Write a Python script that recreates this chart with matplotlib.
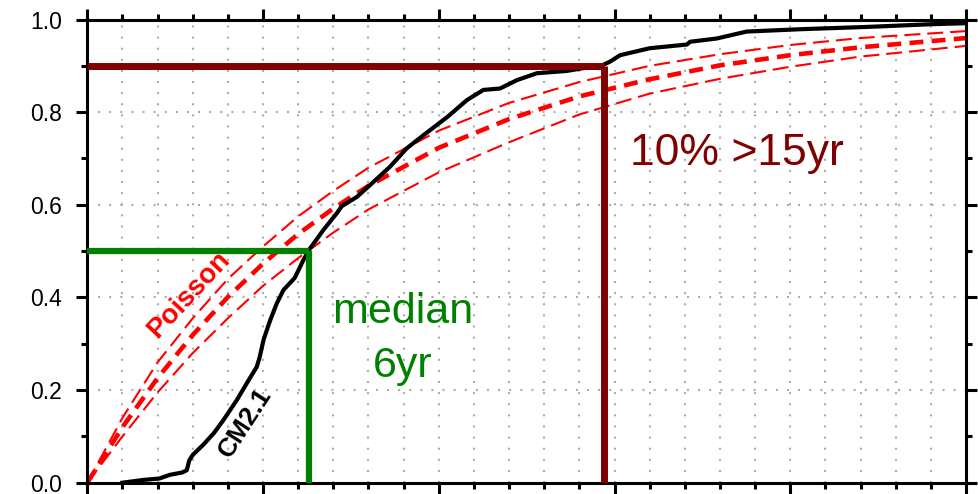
import numpy as np
import matplotlib.pyplot as plt
from matplotlib.ticker import MultipleLocator, NullFormatter

plt.rcParams["font.family"] = ["Liberation Sans", "DejaVu Sans"]
plt.rcParams["lines.scale_dashes"] = False

# Empirical CDF of event return time in CM2.1 (years, cumulative fraction)
cm_years = [1.0, 1.6, 2.05, 2.35, 2.7, 2.83, 2.9, 3.0, 3.3, 3.6, 3.87, 4.25,
            4.54, 4.82, 4.9, 5.02, 5.2, 5.39, 5.58, 5.9, 6.15, 6.33, 6.72,
            7.1, 7.24, 7.67, 8.05, 8.61, 9.09, 9.56, 10.25, 10.8, 11.27,
            11.74, 12.22, 12.79, 13.64, 14.11, 14.59, 14.87, 15.16, 16.0,
            17.06, 17.15, 17.91, 18.76, 20.28, 22.18, 24.07, 25.0]
cm_cdf = [0.0, 0.006, 0.009, 0.017, 0.022, 0.027, 0.048, 0.06, 0.082, 0.107,
          0.135, 0.178, 0.215, 0.25, 0.27, 0.31, 0.35, 0.387, 0.416, 0.442,
          0.481, 0.505, 0.546, 0.582, 0.597, 0.617, 0.643, 0.682, 0.722,
          0.75, 0.79, 0.826, 0.848, 0.851, 0.869, 0.884, 0.889, 0.895,
          0.899, 0.909, 0.923, 0.938, 0.946, 0.952, 0.959, 0.974, 0.979,
          0.984, 0.99, 0.992]

# Poisson reference curves (central estimate and its spread)
poisson_years = [0, 1, 2, 3, 4, 5, 6, 7, 8, 10, 12, 14, 16, 18, 20, 22, 25]
poisson_mid = [0.0, 0.12, 0.226, 0.319, 0.401, 0.473, 0.537, 0.592, 0.641,
               0.723, 0.785, 0.834, 0.871, 0.901, 0.923, 0.94, 0.96]
poisson_hi = [0.0, 0.14, 0.26, 0.355, 0.44, 0.51, 0.575, 0.63, 0.68, 0.76,
              0.82, 0.865, 0.9, 0.925, 0.945, 0.96, 0.975]
poisson_lo = [0.0, 0.1, 0.195, 0.28, 0.355, 0.425, 0.485, 0.54, 0.59, 0.67,
              0.735, 0.795, 0.84, 0.872, 0.898, 0.92, 0.943]

median_year, median_frac = 6.3, 0.5
p90_year, p90_frac = 14.7, 0.9

green = "#008000"
maroon = "#800000"

fig = plt.figure(figsize=(9.79, 4.94), dpi=100)
ax = fig.add_axes([0.0892, 0.0229, 0.8975, 0.9376])

ax.set_xlim(0, 25)
ax.set_ylim(0, 1.0)

# dotted grid: every year vertically, every 0.2 horizontally
grid_kw = dict(color="#a8a8a8", lw=1.5, ls=(0, (1.4, 6.6)), zorder=0)
for gx in range(1, 25):
    ax.axvline(gx, **grid_kw)
for gy in [0.2, 0.4, 0.6, 0.8]:
    ax.axhline(gy, **grid_kw)

ax.plot(poisson_years, poisson_hi, color="red", lw=1.5, ls=(0, (11.5, 5)), zorder=2)
ax.plot(poisson_years, poisson_lo, color="red", lw=1.5, ls=(0, (11.5, 5)), zorder=2)
ax.plot(poisson_years, poisson_mid, color="red", lw=3.3, ls=(0, (10, 6)), zorder=2)

ax.plot(cm_years, cm_cdf, color="black", lw=3, zorder=3)

# median and 90th percentile markers
ax.plot([0, median_year], [median_frac, median_frac], color=green, lw=4.5,
        solid_capstyle="butt", zorder=4)
ax.plot([median_year, median_year], [0, median_frac], color=green, lw=4.5,
        solid_capstyle="butt", zorder=4)
ax.plot([0, p90_year], [p90_frac, p90_frac], color=maroon, lw=5,
        solid_capstyle="butt", zorder=4)
ax.plot([p90_year, p90_year], [0, p90_frac], color=maroon, lw=5,
        solid_capstyle="butt", zorder=4)

ax.text(8.97, 0.345, "median", color=green, fontsize=31, ha="center",
        va="baseline", zorder=5)
ax.text(8.97, 0.229, "6yr", color=green, fontsize=31, ha="center",
        va="baseline", zorder=5)
ax.text(15.44, 0.686, "10% >15yr", color=maroon, fontsize=32, ha="left",
        va="baseline", zorder=5)
ax.text(2.9, 0.405, "Poisson", color="red", fontsize=20, fontweight="bold",
        rotation=47, ha="center", va="center", rotation_mode="anchor", zorder=5)
ax.text(4.5, 0.13, "CM2.1", color="black", fontsize=19, fontweight="bold",
        rotation=57, ha="center", va="center", rotation_mode="anchor", zorder=5)

# ticks outward on every side
ax.xaxis.set_major_locator(MultipleLocator(5))
ax.xaxis.set_minor_locator(MultipleLocator(1))
ax.yaxis.set_major_locator(MultipleLocator(0.2))
ax.yaxis.set_minor_locator(MultipleLocator(0.1))
ax.xaxis.set_major_formatter(NullFormatter())
ax.yaxis.set_major_formatter(plt.FormatStrFormatter("%.1f"))
ax.tick_params(which="both", direction="out", top=True, right=True,
               width=2.2, color="black")
ax.tick_params(which="major", length=8, pad=10, labelsize=16.5)
ax.tick_params(which="minor", length=4)

for sp in ax.spines.values():
    sp.set_linewidth(2.2)
    sp.set_linestyle((0, (7, 1.5)))

fig.savefig("out.png", dpi=100)
